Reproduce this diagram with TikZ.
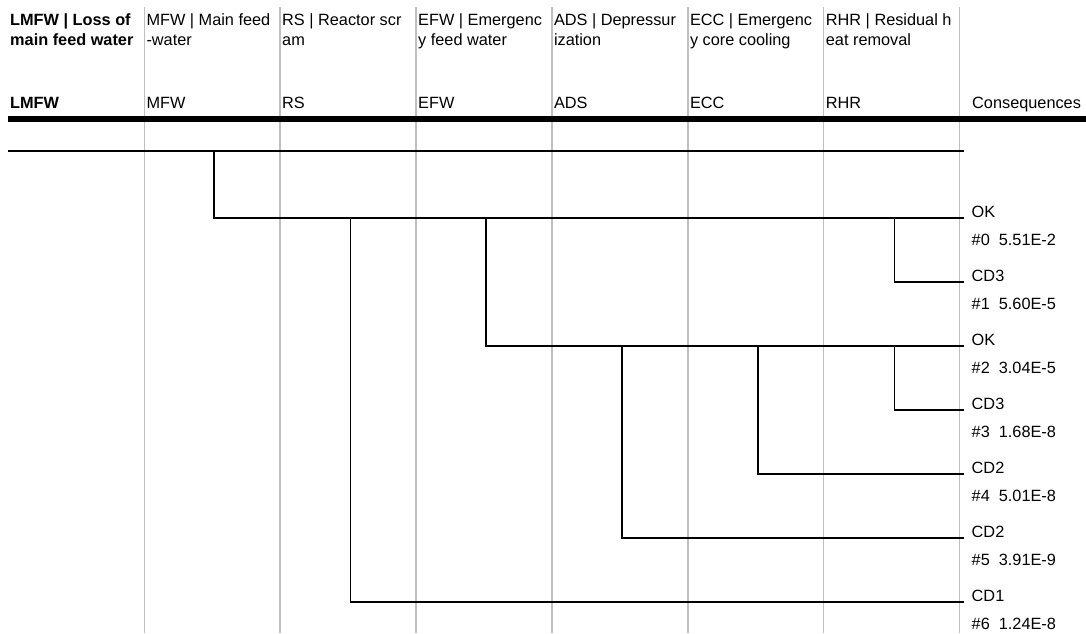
\documentclass[tikz,border=0pt]{standalone}
\usepackage{fontspec}
\setmainfont{Liberation Sans}
\begin{document}
\begin{tikzpicture}[x=1pt,y=-1pt,
  gridline/.style={draw=gray!50, line width=1.4pt},
  treeline/.style={draw=black, line width=1.6pt},
  lbl/.style={anchor=base west, inner sep=0pt, font=\fontsize{16.3}{20}\selectfont},
  hdr/.style={anchor=base west, inner sep=0pt, font=\bfseries\fontsize{16.3}{20}\selectfont}]
\useasboundingbox (0,0) rectangle (1086,633);
% column separators
\foreach \x/\n in {144.3/g1,280/g2,416/g3,551.8/g4,687.8/g5,823.7/g6,959.5/g7}{
  \coordinate (\n t) at (\x,7);
  \coordinate (\n b) at (\x,633);
  \draw[gridline] (\n t) -- (\n b);
}
% headers
\node[hdr] (h0a) at (10,25) {LMFW | Loss of};
\node[hdr] (h0b) at (10,45) {main feed water};
\node[hdr] (h0c) at (10,108) {LMFW};
\node[lbl] (h1a) at (146.3,25) {MFW | Main feed};
\node[lbl] (h1b) at (146.3,45) {-water};
\node[lbl] (h1c) at (146.3,108) {MFW};
\node[lbl] (h2a) at (282,25) {RS | Reactor scr};
\node[lbl] (h2b) at (282,45) {am};
\node[lbl] (h2c) at (282,108) {RS};
\node[lbl] (h3a) at (418,25) {EFW | Emergenc};
\node[lbl] (h3b) at (418,45) {y feed water};
\node[lbl] (h3c) at (418,108) {EFW};
\node[lbl] (h4a) at (553.8,25) {ADS | Depressur};
\node[lbl] (h4b) at (553.8,45) {ization};
\node[lbl] (h4c) at (553.8,108) {ADS};
\node[lbl] (h5a) at (689.8,25) {ECC | Emergenc};
\node[lbl] (h5b) at (689.8,45) {y core cooling};
\node[lbl] (h5c) at (689.8,108) {ECC};
\node[lbl] (h6a) at (825.7,25) {RHR | Residual h};
\node[lbl] (h6b) at (825.7,45) {eat removal};
\node[lbl] (h6c) at (825.7,108) {RHR};
\node[lbl] (h7c) at (972,108) {Consequences};
% thick header rule
\coordinate (ruleL) at (7.5,119.2);
\coordinate (ruleR) at (1086,119.2);
\draw[black, line width=6.5pt] (ruleL) -- (ruleR);
% tree coordinates
\coordinate (s) at (8,151);
\coordinate (t) at (964,151);
\coordinate (m) at (214,151);
\coordinate (r) at (350.3,218);
\coordinate (f) at (486,218);
\coordinate (hA) at (894.3,218);
\coordinate (a) at (622,346);
\coordinate (c) at (758,346);
\coordinate (hB) at (894.3,346);
\foreach \i/\y in {0/218,1/282,2/346,3/410,4/474,5/538,6/602}{
  \coordinate (e\i) at (964,\y);
}
% tree
\draw[treeline] (s) -- (t);
\draw[treeline] (m) |- (e0);
\draw[treeline] (r) |- (e6);
\draw[treeline] (f) |- (e2);
\draw[treeline] (hA) |- (e1);
\draw[treeline] (a) |- (e5);
\draw[treeline] (c) |- (e4);
\draw[treeline] (hB) |- (e3);
% consequences
\foreach \i/\y/\c/\p in {0/218/OK/5.51E-2,1/282/CD3/5.60E-5,2/346/OK/3.04E-5,3/410/CD3/1.68E-8,4/474/CD2/5.01E-8,5/538/CD2/3.91E-9,6/602/CD1/1.24E-8}{
  \node[lbl] (k\i) at (971.5,\y-0.5) {\c};
  \node[lbl] (p\i) at (971.5,\y+27) {\#\i\ \ \p};
}
\end{tikzpicture}
\end{document}
